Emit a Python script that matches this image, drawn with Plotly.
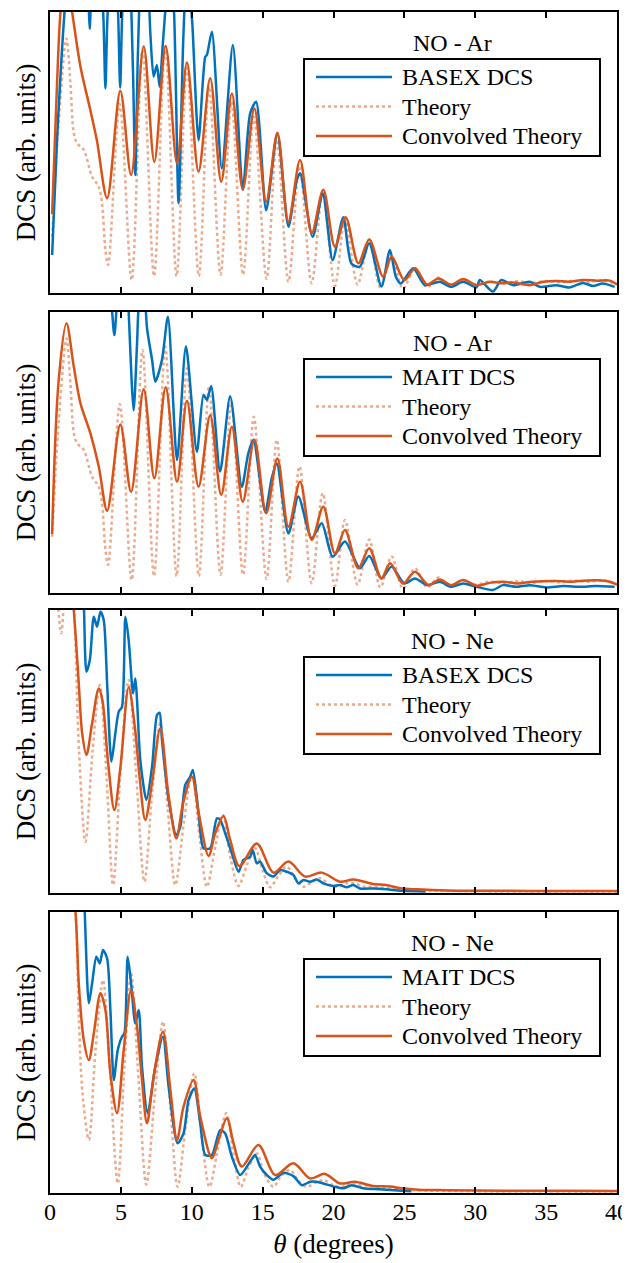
import plotly.graph_objects as go

# ---------------- data (theta in degrees, DCS in arb. units) ----------------
# Panel 1: NO - Ar, BASEX
ar_basex = [(0.15, 0.135), (0.5, 0.55), (1.1, 1.05), (1.6, 1.3), (2.3, 1.25), (2.7, 1.05), (2.8, 0.94),
            (2.9, 1.05), (3.3, 1.3), (3.75, 1.0), (3.91, 0.728), (4.07, 1.0), (4.5, 1.25), (4.8, 1.0),
            (4.95, 0.73), (5.1, 1.0), (5.5, 1.3), (5.85, 0.8), (6.02, 0.42), (6.2, 0.85), (6.5, 1.2),
            (6.9, 1.1), (7.08, 0.924), (7.31, 0.77), (7.54, 0.811), (7.73, 0.734), (7.95, 0.88),
            (8.2, 1.05), (8.45, 1.2), (8.75, 1.0), (9.07, 0.319), (9.4, 0.9), (9.65, 1.15), (9.9, 1.05),
            (10.05, 0.95), (10.48, 0.544), (10.95, 0.84), (11.07, 0.847), (11.42, 0.93), (12.12, 0.444),
            (12.9, 0.883), (13.6, 0.367), (14.12, 0.639), (14.54, 0.681), (15.25, 0.295), (16.04, 0.568),
            (16.82, 0.236), (17.41, 0.402), (17.64, 0.426), (18.53, 0.2), (19.24, 0.355), (19.94, 0.117),
            (20.69, 0.27), (21.26, 0.105), (21.85, 0.093), (22.52, 0.177), (23.38, 0.023), (23.98, 0.153),
            (24.4, 0.058), (24.75, 0.034), (25.62, 0.088), (26.44, 0.028), (27.5, 0.04), (28.3, 0.022),
            (29.15, 0.04), (30.09, 0.02), (30.32, 0.046), (31.25, 0.005), (31.84, 0.046), (32.66, 0.028),
            (33.84, 0.04), (34.55, 0.022), (35.7, 0.028), (36.64, 0.02), (37.6, 0.036), (38.3, 0.025),
            (39.0, 0.034), (39.83, 0.022)]

ar_theory = [(0.15, 0.2), (0.6, 0.6), (1.16, 0.906), (1.44, 0.746), (1.68, 0.568), (1.91, 0.533),
             (2.38, 0.509), (2.97, 0.414), (3.44, 0.378), (3.67, 0.319), (3.91, 0.153), (4.1, 0.1),
             (4.92, 0.673), (5.76, 0.046), (6.52, 0.865), (7.34, 0.06), (8.13, 0.877), (8.93, 0.06),
             (9.66, 0.8), (10.5, 0.06), (11.22, 0.734), (12.03, 0.065), (12.8, 0.68), (13.62, 0.065),
             (14.38, 0.627), (15.28, 0.05), (16.0, 0.545), (16.82, 0.04), (17.6, 0.45), (18.46, 0.035),
             (19.24, 0.355), (20.1, 0.025), (20.81, 0.26), (21.7, 0.03), (22.52, 0.19), (23.3, 0.02),
             (24.1, 0.13), (24.9, 0.015), (25.75, 0.088), (26.6, 0.02), (27.4, 0.055), (28.2, 0.025),
             (29.1, 0.045), (30.0, 0.03), (31.0, 0.04), (32.0, 0.035), (33.0, 0.042), (34.0, 0.036),
             (35.0, 0.043), (36.0, 0.038), (37.0, 0.044), (38.0, 0.04), (39.0, 0.045), (40.0, 0.03)]

ar_basex_conv = [(0.15, 0.28), (0.5, 0.75), (0.74, 1.0), (1.1, 1.15), (1.56, 1.0), (2.15, 0.805),
                 (2.85, 0.65), (3.3, 0.545), (4.03, 0.337), (4.96, 0.72), (5.72, 0.42), (6.61, 0.877),
                 (7.36, 0.467), (8.16, 0.879), (8.96, 0.461), (9.66, 0.82), (10.48, 0.432), (11.3, 0.764),
                 (12.08, 0.396), (12.83, 0.71), (13.6, 0.369), (14.42, 0.657), (15.25, 0.325), (16.04, 0.57),
                 (16.82, 0.254), (17.64, 0.473), (18.46, 0.212), (19.28, 0.367), (20.1, 0.165), (20.85, 0.27),
                 (21.75, 0.106), (22.52, 0.19), (23.5, 0.058), (24.1, 0.13), (25.0, 0.046), (25.75, 0.088),
                 (26.6, 0.03), (27.4, 0.052), (28.3, 0.03), (29.15, 0.05), (30.09, 0.028), (31.0, 0.04),
                 (31.8, 0.035), (32.66, 0.037), (33.84, 0.028), (34.8, 0.04), (35.7, 0.043), (36.6, 0.04),
                 (37.6, 0.046), (38.6, 0.044), (39.5, 0.044), (40.0, 0.03)]

# Panel 2: NO - Ar, MAIT
ar_mait = [(3.5, 1.4), (4.3, 1.05), (4.54, 0.918), (4.75, 1.05), (5.3, 1.3), (5.55, 1.0), (5.9, 0.65),
           (6.15, 0.9), (6.26, 1.02), (6.6, 1.1), (6.85, 0.94), (7.2, 0.83), (7.43, 0.752), (7.9, 0.83),
           (8.32, 0.983), (8.96, 0.473), (9.59, 0.877), (10.36, 0.503), (10.83, 0.705), (11.07, 0.687),
           (11.37, 0.737), (12.0, 0.432), (12.71, 0.7), (13.53, 0.378), (13.99, 0.497), (14.35, 0.545),
           (15.18, 0.289), (15.65, 0.41), (16.0, 0.461), (16.82, 0.212), (17.52, 0.343), (18.46, 0.195),
           (19.17, 0.248), (19.94, 0.129), (20.81, 0.183), (21.86, 0.088), (22.52, 0.132), (23.38, 0.052),
           (24.1, 0.094), (25.0, 0.034), (25.75, 0.052), (26.6, 0.028), (27.5, 0.04), (28.3, 0.022),
           (29.15, 0.034), (30.1, 0.022), (31.25, 0.011), (31.95, 0.028), (32.9, 0.022), (33.84, 0.028),
           (35.0, 0.02), (36.2, 0.025), (37.4, 0.022), (38.5, 0.025), (39.83, 0.022)]

ar_mait_conv = [(0.15, 0.21), (0.6, 0.75), (1.16, 0.96), (1.68, 0.805), (2.15, 0.675), (2.85, 0.568),
                (3.44, 0.45), (4.03, 0.293), (4.96, 0.6), (5.72, 0.36), (6.61, 0.725), (7.36, 0.408),
                (8.16, 0.732), (8.96, 0.396), (9.66, 0.684), (10.48, 0.378), (11.3, 0.633), (12.08, 0.349),
                (12.83, 0.592), (13.6, 0.325), (14.42, 0.545), (15.25, 0.284), (16.04, 0.479), (16.82, 0.236),
                (17.64, 0.396), (18.46, 0.189), (19.28, 0.307), (20.1, 0.141), (20.81, 0.224), (21.75, 0.088),
                (22.52, 0.159), (23.38, 0.052), (24.0, 0.106), (24.9, 0.034), (25.75, 0.076), (26.7, 0.028),
                (27.5, 0.048), (28.3, 0.028), (29.15, 0.046), (30.1, 0.026), (31.0, 0.036), (32.0, 0.04),
                (33.0, 0.034), (34.0, 0.04), (35.7, 0.043), (36.6, 0.04), (37.6, 0.044), (38.6, 0.045),
                (39.5, 0.04), (40.0, 0.03)]

# Panel 3: NO - Ne, BASEX
ne_basex = [(2.2, 1.3), (2.4, 1.0), (2.57, 0.782), (2.81, 0.823), (3.09, 0.976), (3.32, 0.941),
            (3.56, 0.994), (3.79, 0.965), (4.03, 0.741), (4.33, 0.464), (4.61, 0.564), (4.85, 0.641),
            (5.08, 0.658), (5.32, 0.976), (5.55, 0.894), (5.86, 0.705), (6.02, 0.758), (6.14, 0.682),
            (6.37, 0.47), (6.8, 0.329), (7.2, 0.446), (7.55, 0.629), (7.73, 0.637), (7.9, 0.541),
            (8.37, 0.329), (8.91, 0.205), (9.19, 0.234), (9.54, 0.382), (9.89, 0.411), (10.08, 0.435),
            (10.48, 0.282), (10.83, 0.158), (11.3, 0.158), (11.77, 0.264), (12.01, 0.258), (12.36, 0.211),
            (12.83, 0.14), (13.3, 0.075), (13.65, 0.117), (14.12, 0.128), (14.3, 0.152), (14.59, 0.105),
            (14.82, 0.111), (15.29, 0.07), (15.76, 0.058), (16.23, 0.081), (16.7, 0.075), (17.17, 0.064),
            (17.52, 0.034), (17.88, 0.046), (18.35, 0.04), (18.82, 0.048), (19.28, 0.034), (19.99, 0.025),
            (20.46, 0.028), (20.93, 0.02), (21.4, 0.028), (21.86, 0.016), (22.8, 0.016), (23.75, 0.013),
            (24.8, 0.008), (26.5, 0.005)]

ne_basex_theory = [(0.1, 1.3), (0.5, 1.05), (0.79, 0.918), (1.0, 1.05), (1.3, 1.3), (1.6, 1.1),
                   (1.75, 0.95), (2.05, 0.5), (2.5, 0.181), (3.0, 0.5), (3.51, 0.735), (4.0, 0.4),
                   (4.45, 0.028), (5.0, 0.45), (5.55, 0.753), (6.1, 0.4), (6.66, 0.04), (7.2, 0.35),
                   (7.78, 0.6), (8.3, 0.3), (8.84, 0.028), (9.45, 0.25), (10.01, 0.423), (10.55, 0.2),
                   (11.07, 0.022), (11.65, 0.16), (12.19, 0.276), (12.75, 0.12), (13.3, 0.025), (13.9, 0.1),
                   (14.47, 0.158), (15.0, 0.08), (15.53, 0.02), (16.1, 0.06), (16.7, 0.093), (17.3, 0.05),
                   (17.9, 0.022), (18.5, 0.04), (19.05, 0.052), (19.7, 0.03), (20.3, 0.022), (21.0, 0.035),
                   (21.5, 0.033), (22.2, 0.022), (22.8, 0.022), (23.7, 0.018), (24.5, 0.015), (25.5, 0.01),
                   (27.0, 0.008), (30.0, 0.006), (35.0, 0.005), (40.0, 0.005)]

ne_basex_conv = [(0.1, 1.5), (1.0, 1.4), (1.68, 1.0), (2.03, 0.74), (2.27, 0.564), (2.57, 0.488),
                 (2.97, 0.6), (3.44, 0.723), (3.7, 0.68), (4.1, 0.46), (4.54, 0.293), (4.98, 0.45),
                 (5.55, 0.727), (6.0, 0.58), (6.3, 0.42), (6.72, 0.258), (7.2, 0.39), (7.78, 0.582),
                 (8.35, 0.35), (8.91, 0.193), (9.4, 0.32), (10.01, 0.411), (10.5, 0.28), (11.19, 0.131),
                 (11.65, 0.21), (12.24, 0.272), (12.7, 0.19), (13.37, 0.095), (14.59, 0.175), (15.76, 0.072),
                 (16.82, 0.111), (18.0, 0.058), (19.17, 0.072), (20.46, 0.04), (21.4, 0.048), (22.8, 0.032),
                 (23.7, 0.028), (24.7, 0.017), (25.9, 0.013), (28.0, 0.009), (32.0, 0.008), (36.0, 0.007),
                 (40.0, 0.007)]

# Panel 4: NO - Ne, MAIT
ne_mait = [(2.2, 1.3), (2.45, 1.0), (2.74, 0.675), (2.97, 0.746), (3.27, 0.841), (3.51, 0.817),
           (3.74, 0.865), (4.03, 0.835), (4.26, 0.651), (4.5, 0.402), (4.78, 0.509), (5.08, 0.556),
           (5.25, 0.568), (5.48, 0.841), (5.72, 0.746), (6.02, 0.604), (6.26, 0.651), (6.49, 0.449),
           (6.89, 0.284), (7.43, 0.449), (7.97, 0.556), (8.37, 0.378), (9.0, 0.177), (9.42, 0.212),
           (9.78, 0.331), (10.18, 0.372), (10.6, 0.248), (10.95, 0.135), (11.42, 0.135), (12.0, 0.224),
           (12.36, 0.212), (12.83, 0.129), (13.42, 0.064), (14.12, 0.112), (14.47, 0.135), (14.82, 0.094),
           (15.29, 0.064), (15.76, 0.047), (16.47, 0.072), (17.17, 0.06), (17.76, 0.028), (18.35, 0.04),
           (18.82, 0.04), (19.28, 0.034), (20.1, 0.022), (20.69, 0.017), (21.28, 0.028), (22.1, 0.017),
           (23.27, 0.013), (24.8, 0.008), (25.5, 0.006)]

ne_mait_theory = [(0.2, 1.5), (1.0, 1.4), (1.8, 1.0), (2.03, 0.63), (2.3, 0.35), (2.74, 0.189),
                  (3.2, 0.5), (3.74, 0.758), (4.15, 0.5), (4.78, 0.034), (5.25, 0.45), (5.72, 0.782),
                  (6.25, 0.4), (6.79, 0.03), (7.4, 0.35), (7.97, 0.61), (8.5, 0.3), (9.0, 0.022),
                  (9.6, 0.25), (10.18, 0.426), (10.7, 0.2), (11.25, 0.022), (11.85, 0.16), (12.43, 0.284),
                  (13.0, 0.12), (13.46, 0.022), (14.0, 0.09), (14.59, 0.141), (15.1, 0.07), (15.76, 0.022),
                  (16.3, 0.06), (16.93, 0.082), (17.5, 0.045), (18.1, 0.022), (18.8, 0.038), (19.3, 0.046),
                  (19.9, 0.03), (20.46, 0.02), (21.2, 0.035), (21.5, 0.033), (22.5, 0.025), (23.5, 0.018),
                  (24.5, 0.014), (25.5, 0.01), (27.0, 0.008), (30.0, 0.006), (35.0, 0.005), (40.0, 0.005)]

ne_mait_conv = [(0.2, 1.6), (1.0, 1.4), (1.8, 1.0), (2.03, 0.746), (2.38, 0.545), (2.74, 0.473),
                (3.09, 0.568), (3.56, 0.711), (3.91, 0.651), (4.26, 0.426), (4.73, 0.284), (5.2, 0.509),
                (5.72, 0.722), (6.14, 0.592), (6.49, 0.402), (6.84, 0.248), (7.31, 0.414), (7.97, 0.574),
                (8.49, 0.367), (8.96, 0.189), (9.42, 0.307), (10.13, 0.402), (10.6, 0.272), (11.42, 0.124),
                (11.89, 0.189), (12.48, 0.266), (12.95, 0.177), (13.53, 0.094), (14.71, 0.171), (15.88, 0.064),
                (17.17, 0.106), (18.35, 0.052), (19.4, 0.068), (20.46, 0.034), (21.51, 0.04), (22.8, 0.025),
                (24.0, 0.023), (24.8, 0.017), (26.0, 0.012), (28.0, 0.01), (32.0, 0.008), (36.0, 0.008),
                (40.0, 0.007)]

panel_titles = ["NO - Ar", "NO - Ar", "NO - Ne", "NO - Ne"]
data_labels = ["BASEX DCS", "MAIT DCS", "BASEX DCS", "MAIT DCS"]
theory_label = "Theory"
conv_label = "Convolved Theory"
x_ticks = [0, 5, 10, 15, 20, 25, 30, 35, 40]

panels = [
    (ar_basex, ar_theory, ar_basex_conv),
    (ar_mait, ar_theory, ar_mait_conv),
    (ne_basex, ne_basex_theory, ne_basex_conv),
    (ne_mait, ne_mait_theory, ne_mait_conv),
]

# ---------------- styling / layout ----------------
BLUE = "#0072BD"
ORANGE = "#D95319"
THEORY = "rgba(217,83,25,0.5)"
FONT = "Liberation Serif, Times New Roman, DejaVu Serif, serif"

# the page body adds an 8 px margin around the figure; target positions below are window pixels
OFF = 8
WIN_W, WIN_H = 630, 1263
W, H = WIN_W - OFF, WIN_H - OFF
PLOT_L, PLOT_R, PLOT_T, PLOT_B = 50, 617, 12, 1193     # window pixels of the plotting region
ML = PLOT_L - OFF
MR = W - (PLOT_R - OFF)
MT = PLOT_T - OFF
MB = H - (PLOT_B - OFF)
PW = W - ML - MR
PH = H - MT - MB


def fx(px):
    return (px - OFF - ML) / PW


def fy(py):
    return 1 - (py - OFF - MT) / PH


panel_tops = [12, 312, 610, 912]
panel_bots = [293, 593, 893, 1193]

fig = go.Figure()
shapes = []
annotations = []

for i, (dat, theo, conv) in enumerate(panels):
    xa = "x" if i == 0 else f"x{i + 1}"
    ya = "y" if i == 0 else f"y{i + 1}"
    fig.add_trace(go.Scatter(x=[p[0] for p in theo], y=[p[1] for p in theo], name=theory_label,
                             mode="lines", xaxis=xa, yaxis=ya, showlegend=False,
                             line=dict(color=THEORY, width=2.5, dash="dot", shape="spline", smoothing=0.9)))
    fig.add_trace(go.Scatter(x=[p[0] for p in dat], y=[p[1] for p in dat], name=data_labels[i],
                             mode="lines", xaxis=xa, yaxis=ya, showlegend=False,
                             line=dict(color=BLUE, width=2.5, shape="spline", smoothing=0.7)))
    fig.add_trace(go.Scatter(x=[p[0] for p in conv], y=[p[1] for p in conv], name=conv_label,
                             mode="lines", xaxis=xa, yaxis=ya, showlegend=False,
                             line=dict(color=ORANGE, width=2.5, shape="spline", smoothing=0.9)))

    dom = [max(0.0, fy(panel_bots[i])), min(1.0, fy(panel_tops[i]))]
    last = i == 3
    xkey = "xaxis" if i == 0 else f"xaxis{i + 1}"
    ykey = "yaxis" if i == 0 else f"yaxis{i + 1}"
    fig.update_layout({
        xkey: dict(domain=[0, 1], range=[0, 40], anchor=ya, tickvals=x_ticks,
                   ticktext=[str(t) for t in x_ticks], showticklabels=last,
                   ticks="inside", ticklen=6, tickwidth=1.5, tickcolor="black",
                   showline=True, linecolor="black", linewidth=2, mirror="ticks",
                   showgrid=False, zeroline=False, automargin=False, ticklabelstandoff=-4,
                   tickfont=dict(family=FONT, size=24, color="black"),
                   title=dict(text="<i>θ</i> (degrees)" if last else "", standoff=10,
                              font=dict(family=FONT, size=27, color="black"))),
        ykey: dict(domain=dom, range=[0, 1], anchor=xa, showticklabels=False, ticks="",
                   showline=True, linecolor="black", linewidth=2, mirror=True,
                   showgrid=False, zeroline=False, automargin=False,
                   title=dict(text="DCS (arb. units)", standoff=5,
                              font=dict(family=FONT, size=27, color="black"))),
    })

    t = panel_tops[i]
    # legend title
    annotations.append(dict(text=panel_titles[i], x=fx(452), y=fy(t + 31), xref="paper", yref="paper",
                            xanchor="center", yanchor="middle", showarrow=False,
                            font=dict(family=FONT, size=24, color="black")))
    # legend box
    shapes.append(dict(type="rect", xref="paper", yref="paper", x0=fx(304), x1=fx(600),
                       y0=fy(t + 47), y1=fy(t + 144), line=dict(color="black", width=2),
                       fillcolor="white", layer="above"))
    rows = [(data_labels[i], BLUE, "solid"), (theory_label, THEORY, "dot"), (conv_label, ORANGE, "solid")]
    for k, (lab, col, dash) in enumerate(rows):
        ry = t + 65 + k * 29.5
        shapes.append(dict(type="line", xref="paper", yref="paper", x0=fx(316), x1=fx(392),
                           y0=fy(ry), y1=fy(ry), line=dict(color=col, width=2.5, dash=dash),
                           layer="above"))
        annotations.append(dict(text=lab, x=fx(400), y=fy(ry), xref="paper", yref="paper",
                                xanchor="left", yanchor="middle", showarrow=False,
                                font=dict(family=FONT, size=24, color="black")))

fig.update_layout(
    width=W, height=H,
    margin=dict(l=ML, r=MR, t=MT, b=MB, autoexpand=False),
    paper_bgcolor="white", plot_bgcolor="white",
    font=dict(family=FONT, size=24, color="black"),
    showlegend=False,
    shapes=shapes, annotations=annotations,
)

fig.write_html("out.html")
